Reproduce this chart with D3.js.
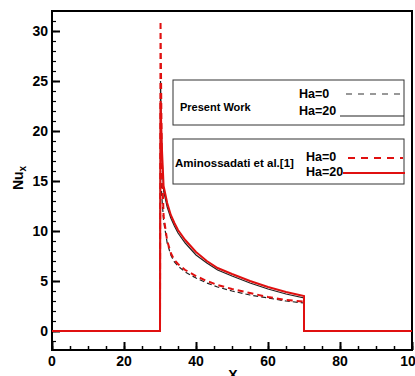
<!DOCTYPE html>
<html>
<head>
<meta charset="utf-8">
<script src="https://cdn.jsdelivr.net/npm/d3@7"></script>
<style>
  body { margin: 0; background: #fff; }
  text { font-family: "Liberation Sans", Arial, sans-serif; font-weight: bold; }
</style>
</head>
<body>
<script>
// x positions shared by every curve
var xs = [0, 30, 30.15, 30.5, 31, 32, 33, 34, 35, 37, 40, 43, 46, 50, 55, 60, 65, 70, 70, 100];

// Nu_x values
var presentHa0 = [0, 0, 16, 13.5, 11, 8.8, 7.6, 6.9, 6.5, 5.9, 5.3, 4.8, 4.4, 4.0, 3.6, 3.3, 3.0, 2.8, 0, 0];
var presentHa20 = [0, 0, 25, 18, 14, 12.4, 11.3, 10.5, 9.8, 8.8, 7.6, 6.8, 6.1, 5.5, 4.8, 4.2, 3.7, 3.3, 0, 0];
var aminoHa0 = [0, 0, 31, 17, 11.5, 9.0, 7.8, 7.1, 6.7, 6.1, 5.5, 5.0, 4.6, 4.2, 3.8, 3.4, 3.1, 2.95, 0, 0];
var aminoHa20 = [0, 0, 23, 18.5, 14.5, 12.8, 11.6, 10.8, 10.1, 9.1, 7.9, 7.0, 6.3, 5.7, 5.0, 4.4, 3.9, 3.5, 0, 0];

var xTicks = [0, 20, 40, 60, 80, 100];
var yTicks = [0, 5, 10, 15, 20, 25, 30];

window.onload = drawChart();

function drawChart() {
    var width = 415,
    height = 376;
    var left = 52, right = 412, top = 11, bottom = 350;

    var svg = d3.select("body")
    .append("svg")
    .attr("width", width)
    .attr("height", height);

    var x = d3.scaleLinear().domain([0, 100]).range([left, right]);
    var y = d3.scaleLinear().domain([-1.9, 32]).range([bottom, top]);

    svg.append("defs").append("clipPath").attr("id", "clip")
    .append("rect").attr("x", left).attr("y", top)
    .attr("width", right - left).attr("height", bottom - top);

    //minor ticks, inward
    var xAxisMinor = d3.axisTop(x).tickValues(d3.range(0, 101, 5)).tickSize(4).tickFormat("");
    svg.append("g").attr("transform", "translate(0," + bottom + ")").call(xAxisMinor)
    .call(g => g.select(".domain").remove())
    .selectAll("line").attr("stroke", "#000").attr("stroke-width", 1.5);

    var yAxisMinor = d3.axisRight(y).tickValues(d3.range(-1, 32, 1)).tickSize(4).tickFormat("");
    svg.append("g").attr("transform", "translate(" + left + ",0)").call(yAxisMinor)
    .call(g => g.select(".domain").remove())
    .selectAll("line").attr("stroke", "#000").attr("stroke-width", 1.2);

    //major ticks
    var xAxis = d3.axisTop(x).tickValues(xTicks).tickSize(8).tickFormat("");
    svg.append("g").attr("transform", "translate(0," + bottom + ")").call(xAxis)
    .call(g => g.select(".domain").remove())
    .selectAll("line").attr("stroke", "#000").attr("stroke-width", 2);

    var yAxis = d3.axisRight(y).tickValues(yTicks).tickSize(8).tickFormat("");
    svg.append("g").attr("transform", "translate(" + left + ",0)").call(yAxis)
    .call(g => g.select(".domain").remove())
    .selectAll("line").attr("stroke", "#000").attr("stroke-width", 2);

    //tick labels
    svg.selectAll(".xlab").data(xTicks).enter().append("text")
    .attr("x", d => x(d)).attr("y", 366)
    .attr("text-anchor", "middle").attr("font-size", 14)
    .text(d => d);

    svg.selectAll(".ylab").data(yTicks).enter().append("text")
    .attr("x", 48).attr("y", d => y(d) + 5)
    .attr("text-anchor", "end").attr("font-size", 14)
    .text(d => d);

    //frame
    svg.append("rect").attr("x", left).attr("y", top)
    .attr("width", right - left).attr("height", bottom - top)
    .attr("fill", "none").attr("stroke", "#000").attr("stroke-width", 2);

    //axis titles
    svg.append("text").attr("x", 233).attr("y", 380)
    .attr("text-anchor", "middle").attr("font-size", 14).text("X");

    var yl = svg.append("text")
    .attr("transform", "translate(23,178) rotate(-90)")
    .attr("text-anchor", "middle").attr("font-size", 14);
    yl.append("tspan").text("Nu");
    yl.append("tspan").attr("font-size", 10).attr("dy", 3).text("x");

    //curves
    var line = d3.line()
    .x((d, i) => x(xs[i]))
    .y(d => y(d));

    var plot = svg.append("g").attr("clip-path", "url(#clip)");

    var series = [
        {v: presentHa0, c: "#222", w: 1.2, dash: "5,3"},
        {v: presentHa20, c: "#222", w: 1.2, dash: null},
        {v: aminoHa0, c: "#e01010", w: 2, dash: "6,4"},
        {v: aminoHa20, c: "#e01010", w: 2, dash: null}
    ];

    plot.selectAll(".curve").data(series).enter().append("path")
    .attr("class", "curve")
    .attr("d", d => line(d.v))
    .attr("fill", "none")
    .attr("stroke", d => d.c)
    .attr("stroke-width", d => d.w)
    .attr("stroke-dasharray", d => d.dash);

    //legend boxes
    var boxes = [
        {x: 173, y: 80, w: 231, h: 45},
        {x: 173, y: 139, w: 231, h: 45}
    ];
    svg.selectAll(".box").data(boxes).enter().append("rect")
    .attr("x", d => d.x).attr("y", d => d.y)
    .attr("width", d => d.w).attr("height", d => d.h)
    .attr("fill", "#fff").attr("stroke", "#333").attr("stroke-width", 1);

    svg.append("text").attr("x", 180).attr("y", 111).attr("font-size", 11).text("Present Work");
    svg.append("text").attr("x", 299).attr("y", 98).attr("font-size", 12.5).text("Ha=0");
    svg.append("text").attr("x", 299).attr("y", 115).attr("font-size", 12.5).text("Ha=20");
    svg.append("text").attr("x", 175).attr("y", 167).attr("font-size", 11.5).text("Aminossadati et al.[1]");
    svg.append("text").attr("x", 306).attr("y", 161).attr("font-size", 12.5).text("Ha=0");
    svg.append("text").attr("x", 306).attr("y", 176).attr("font-size", 12.5).text("Ha=20");

    svg.append("line").attr("x1", 346).attr("x2", 400).attr("y1", 94).attr("y2", 94)
    .attr("stroke", "#333").attr("stroke-width", 1.2).attr("stroke-dasharray", "6,6");
    svg.append("line").attr("x1", 340).attr("x2", 404).attr("y1", 116).attr("y2", 116)
    .attr("stroke", "#222").attr("stroke-width", 1.2);
    svg.append("line").attr("x1", 348).attr("x2", 403).attr("y1", 158).attr("y2", 158)
    .attr("stroke", "#e01010").attr("stroke-width", 2).attr("stroke-dasharray", "7,6");
    svg.append("line").attr("x1", 343).attr("x2", 405).attr("y1", 173).attr("y2", 173)
    .attr("stroke", "#e01010").attr("stroke-width", 2);
};
</script>
</body>
</html>
